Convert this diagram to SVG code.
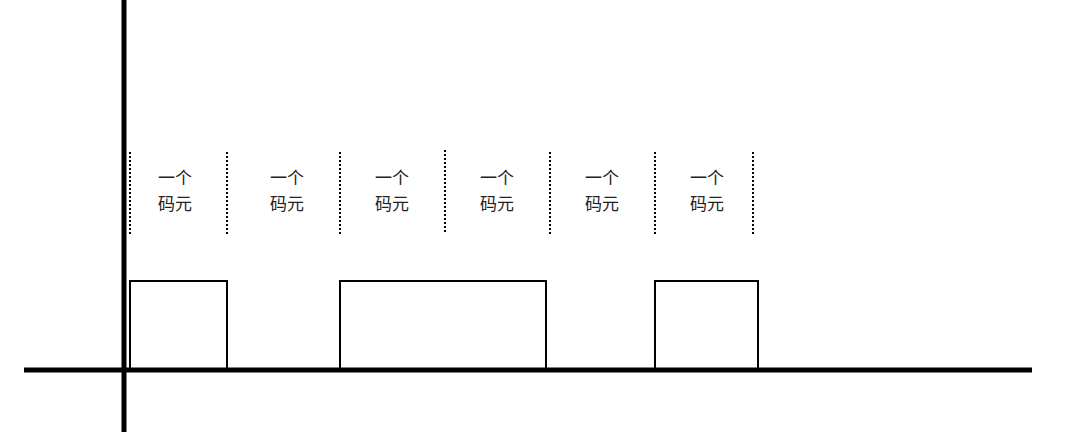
<svg xmlns="http://www.w3.org/2000/svg" width="1075" height="446" viewBox="0 0 1075 446">
<style>
.ax{stroke:#000;stroke-width:5;fill:none}
.sig{stroke:#000;stroke-width:2;fill:none}
.d{stroke:#000;stroke-width:2;stroke-dasharray:2 2;fill:none}
text{font-family:"Noto Sans CJK SC",sans-serif;font-size:17px;fill:#222;text-anchor:middle}
</style>
<rect width="1075" height="446" fill="#fff"/>
<g id="axes">
<line class="ax" x1="124" y1="0" x2="124" y2="432"/>
<line class="ax" x1="24" y1="370" x2="1032" y2="370"/>
</g>
<g id="signal">
<polyline class="sig" points="130,368 130,281 227,281 227,368"/>
<polyline class="sig" points="340,368 340,281 546,281 546,368"/>
<polyline class="sig" points="655,368 655,281 758,281 758,368"/>
</g>
<g id="dividers">
<line class="d" x1="130" y1="152" x2="130" y2="234"/>
<line class="d" x1="227" y1="152" x2="227" y2="234"/>
<line class="d" x1="340" y1="152" x2="340" y2="234"/>
<line class="d" x1="445" y1="150" x2="445" y2="234"/>
<line class="d" x1="550" y1="152" x2="550" y2="234"/>
<line class="d" x1="655" y1="152" x2="655" y2="234"/>
<line class="d" x1="753" y1="152" x2="753" y2="234"/>
</g>
<g id="labels">
<text x="175" y="184">一个</text><text x="175" y="210">码元</text>
<text x="287" y="184">一个</text><text x="287" y="210">码元</text>
<text x="392" y="184">一个</text><text x="392" y="210">码元</text>
<text x="497" y="184">一个</text><text x="497" y="210">码元</text>
<text x="602" y="184">一个</text><text x="602" y="210">码元</text>
<text x="707" y="184">一个</text><text x="707" y="210">码元</text>
</g>
</svg>
